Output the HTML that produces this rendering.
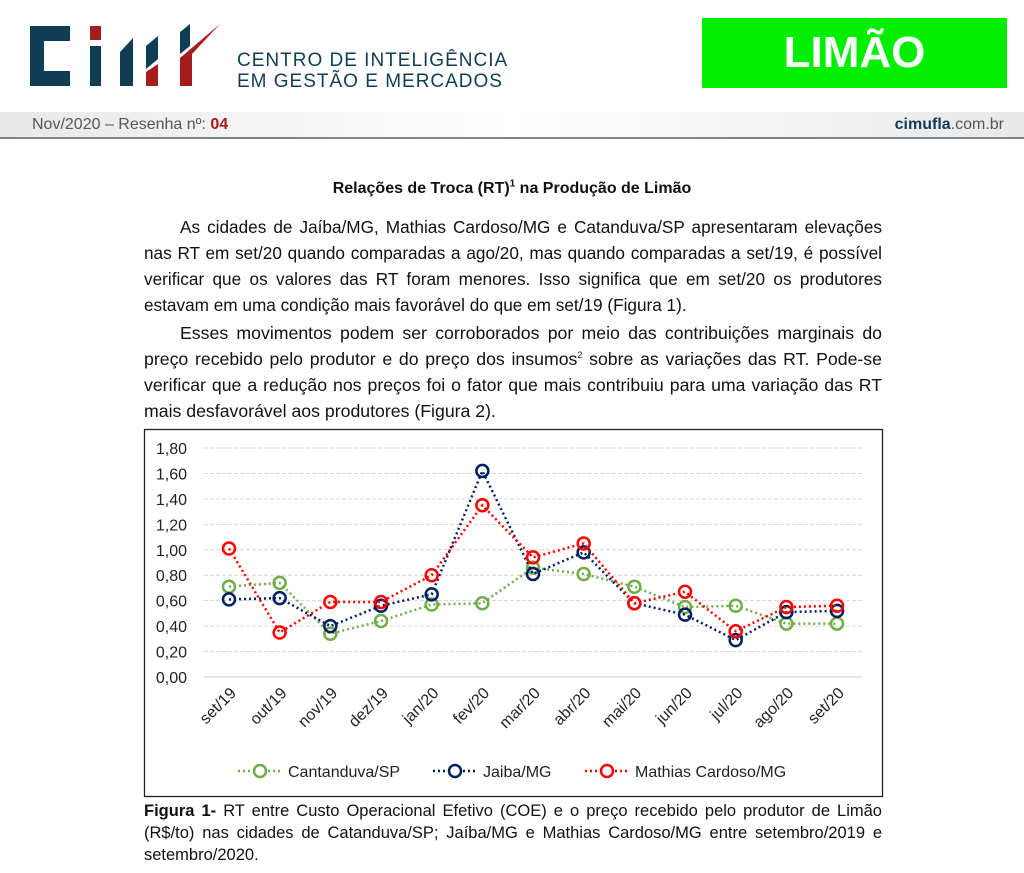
<!DOCTYPE html>
<html><head><meta charset="utf-8">
<style>
body{margin:0;width:1024px;height:873px;background:#fff;position:relative;overflow:hidden;font-family:"Liberation Sans",sans-serif;color:#111}
.abs{position:absolute}
p.t{position:absolute;left:144px;width:738px;margin:0;font-size:17.2px;line-height:26px;text-align:justify;text-indent:36px}
sup{line-height:0}
</style></head><body>
<div class="abs" style="left:30px;top:24px;width:190px;height:64px">
<svg width="190" height="64">
<rect x="0" y="2" width="40" height="60" fill="#0f3d56"/><rect x="14" y="17" width="26" height="30" fill="#fff"/>
<rect x="60" y="2" width="11" height="14" fill="#a51c1c"/><rect x="60" y="22" width="11" height="40" fill="#0f3d56"/>
<polygon points="90,28 103,14 103,62 90,62" fill="#0f3d56"/>
<polygon points="116,22 128,12 128,35 116,45" fill="#0f3d56"/><polygon points="116,48 128,40 128,62 116,62" fill="#a51c1c"/>
<polygon points="150,8 160,0 160,22 150,30" fill="#0f3d56"/><polygon points="150,34 190,0 162,30 162,62 150,62" fill="#a51c1c"/>
</svg></div>
<div class="abs" style="left:237px;top:50px;font-size:19px;line-height:21px;color:#0f3d56;letter-spacing:1px">CENTRO DE INTELIGÊNCIA<br>EM GESTÃO E MERCADOS</div>
<div class="abs" style="left:702px;top:18px;width:305px;height:70px;background:#00ee00;color:#fff;font-weight:bold;font-size:44px;line-height:70px;text-align:center">LIMÃO</div>
<div class="abs" style="left:0;top:112px;width:1024px;height:25px;background:linear-gradient(90deg,#e8e8e8,#fff 50%,#e8e8e8);border-bottom:2px solid #7a8793"></div>
<div class="abs" style="left:32px;top:116px;font-size:16px;color:#555">Nov/2020 – Resenha nº: <b style="color:#a51c1c">04</b></div>
<div class="abs" style="right:20px;top:116px;font-size:16px;color:#555"><b style="color:#0f3d56">cimufla</b>.com.br</div>
<div class="abs" style="left:0;width:1024px;top:180px;text-align:center;font-weight:bold;font-size:16px">Relações de Troca (RT)<sup style="font-size:10px">1</sup> na Produção de Limão</div>
<p class="t" style="top:214px">As cidades de Jaíba/MG, Mathias Cardoso/MG e Catanduva/SP apresentaram elevações nas RT em set/20 quando comparadas a ago/20, mas quando comparadas a set/19, é possível verificar que os valores das RT foram menores. Isso significa que em set/20 os produtores estavam em uma condição mais favorável do que em set/19 (Figura 1).</p>
<p class="t" style="top:320px;font-size:17.7px">Esses movimentos podem ser corroborados por meio das contribuições marginais do preço recebido pelo produtor e do preço dos insumos<sup style="font-size:9px">2</sup> sobre as variações das RT. Pode-se verificar que a redução nos preços foi o fator que mais contribuiu para uma variação das RT mais desfavorável aos produtores (Figura 2).</p>
<svg class="abs" id="chart" style="left:0;top:0" width="1024" height="873"></svg>
<p class="t" style="top:800px;text-indent:0;line-height:22px;font-size:16.5px"><b>Figura 1-</b> RT entre Custo Operacional Efetivo (COE) e o preço recebido pelo produtor de Limão (R$/to) nas cidades de Catanduva/SP; Jaíba/MG e Mathias Cardoso/MG entre setembro/2019 e setembro/2020.</p>
<script>
const categories=["set/19","out/19","nov/19","dez/19","jan/20","fev/20","mar/20","abr/20","mai/20","jun/20","jul/20","ago/20","set/20"];
const catanduva=[0.71,0.74,0.34,0.44,0.57,0.58,0.86,0.81,0.71,0.55,0.56,0.42,0.42];
const jaiba=[0.61,0.62,0.40,0.56,0.65,1.62,0.81,0.98,0.58,0.49,0.29,0.51,0.52];
const mathias=[1.01,0.35,0.59,0.59,0.80,1.35,0.94,1.05,0.58,0.67,0.36,0.55,0.56];
const yTicks=[0,0.2,0.4,0.6,0.8,1.0,1.2,1.4,1.6,1.8];
const seriesNames=["Cantanduva/SP","Jaiba/MG","Mathias Cardoso/MG"];
const NS="http://www.w3.org/2000/svg";
const svg=document.getElementById('chart');
function X(i){return 229+i*50.67;}
function Y(v){return 677-v*127.2;}
function mk(t,a){const e=document.createElementNS(NS,t);for(const k in a)e.setAttribute(k,a[k]);svg.appendChild(e);return e;}
const frame=mk('rect',{x:144.5,y:429.5,width:738,height:367,fill:'none',stroke:'#222','stroke-width':1.3});


yTicks.forEach(v=>{
 const g=mk('line',{x1:204,x2:862,y1:Y(v),y2:Y(v),stroke:v===0?'#d0d0d0':'#d6d6d6','stroke-dasharray':v===0?'':'4,2'});
 
 
 const t=mk('text',{x:187,y:Y(v)+6,'text-anchor':'end','font-size':16,fill:'#222'});
 t.textContent=v.toFixed(2).replace('.',',');
 
 
});
categories.forEach((c,i)=>{
 const t=mk('text',{x:X(i)+8,y:694,'text-anchor':'end','font-size':16,fill:'#222',transform:`rotate(-45 ${X(i)+8} 694)`});
 t.textContent=c;
 
 
});
const cols=['#70ad47','#002060','#ff0000'];
[catanduva,jaiba,mathias].forEach((d,s)=>{
 const pl=mk('polyline',{points:d.map((v,i)=>X(i)+','+Y(v)).join(' '),fill:'none',stroke:cols[s],'stroke-width':2.5,'stroke-dasharray':'2,3'});
 
 
 d.forEach((v,i)=>{
  const c=mk('circle',{cx:X(i),cy:Y(v),r:6,fill:'none',stroke:cols[s],'stroke-width':2.5});
  
  
 });
});
const lx=[238,433,585];
seriesNames.forEach((n,s)=>{
 const l=mk('line',{x1:lx[s],x2:lx[s]+44,y1:771,y2:771,stroke:cols[s],'stroke-width':2.5,'stroke-dasharray':'2,3'});
 
 
 const c=mk('circle',{cx:lx[s]+22,cy:771,r:6,fill:'#fff',stroke:cols[s],'stroke-width':2.5});
 
 
 const t=mk('text',{x:lx[s]+50,y:777,'font-size':16,fill:'#222'});
 t.textContent=n;
 
 
});
</script>
</body></html>
